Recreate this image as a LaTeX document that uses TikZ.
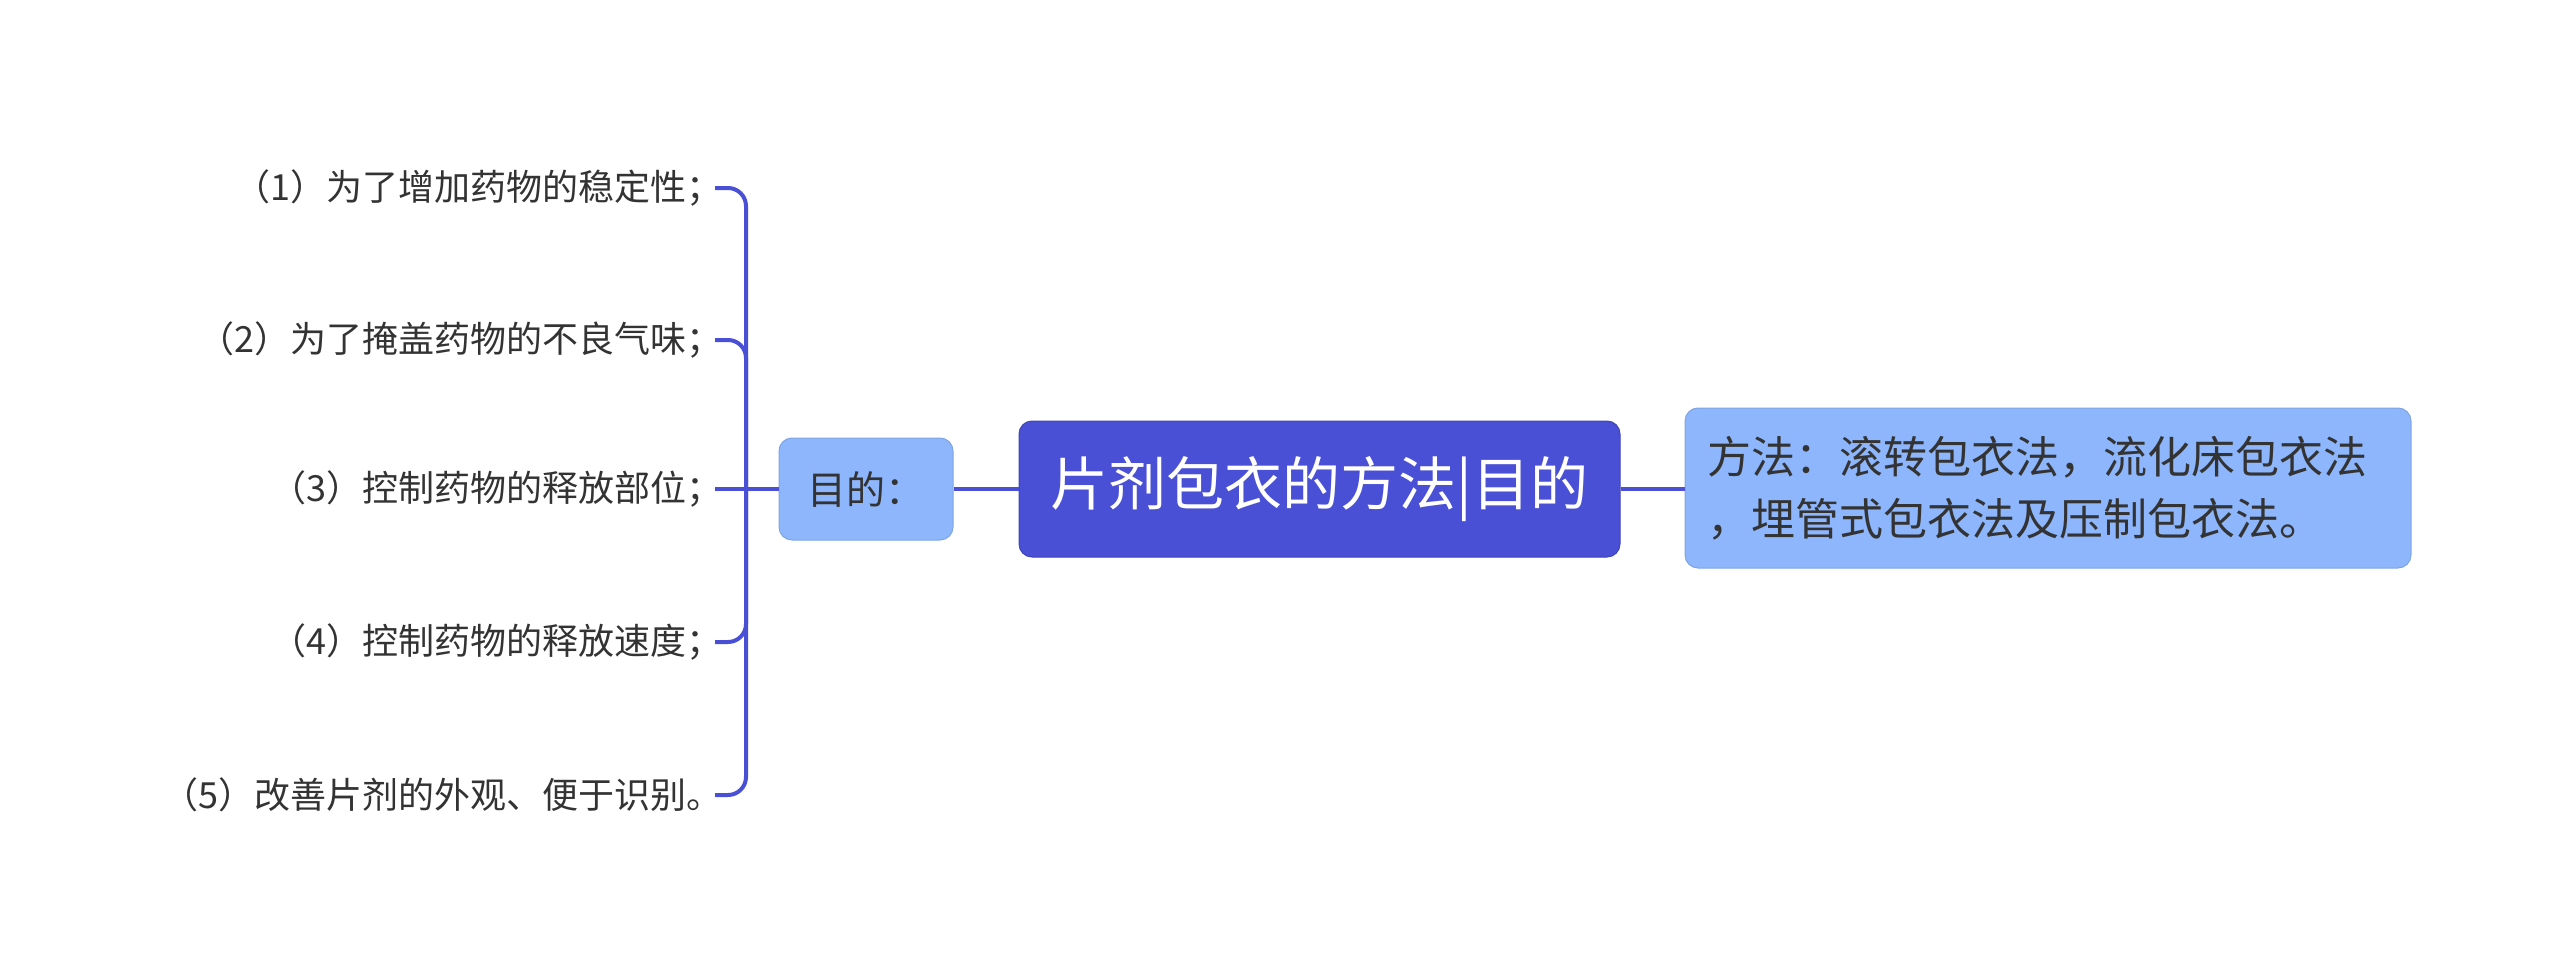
\documentclass[tikz,border=0pt]{standalone}
\usepackage{fontspec}
\setmainfont{Noto Sans CJK SC}
\usetikzlibrary{positioning, calc}
\definecolor{rootcolor}{HTML}{4A50D6}
\definecolor{subcolor}{HTML}{8DB6FC}
\definecolor{textcolor}{HTML}{333333}

\begin{document}
\begin{tikzpicture}[x=1pt, y=-1pt,
    link/.style={draw=rootcolor, line width=4pt},
    root/.style={fill=rootcolor, draw=rootcolor!85!black, line width=1pt, rounded corners=13pt,
        text=white, minimum width=601pt, minimum height=136pt, inner sep=0pt,
        font=\fontsize{58}{68}\selectfont},
    topic/.style={fill=subcolor, draw=subcolor!90!black, line width=1pt, rounded corners=13pt,
        text=textcolor, inner sep=0pt},
    leaf/.style={anchor=east, text=textcolor, inner sep=0pt, font=\fontsize{36}{42}\selectfont}]

    % Canvas
    \useasboundingbox (0,0) rectangle (2560,979);

    % Central topic
    \node[root] (main) at (1319.5,489) {片剂包衣的方法|目的};

    % Purpose branch
    \node[topic, minimum width=174pt, minimum height=102pt,
        font=\fontsize{39}{45}\selectfont] (purpose) at (866,489) {目的：};

    % Method branch
    \node[topic, minimum height=160pt, inner xsep=22pt, text width=682pt, align=left,
        font=\fontsize{44}{62}\selectfont] (method) at (2048,488)
        {方法：滚转包衣法，流化床包衣法\\，埋管式包衣法及压制包衣法。};

    % Leaves of the purpose branch
    \node[leaf] (p1) at (723,188) {（1）为了增加药物的稳定性；};
    \node[leaf] (p2) at (723,340) {（2）为了掩盖药物的不良气味；};
    \node[leaf] (p3) at (723,489) {（3）控制药物的释放部位；};
    \node[leaf] (p4) at (723,642) {（4）控制药物的释放速度；};
    \node[leaf] (p5) at (723,795) {（5）改善片剂的外观、便于识别。};

    % Connectors
    \coordinate (hub) at (746,489);
    \draw[link] (purpose.east) -- (main.west);
    \draw[link] (main.east) -- (method.west |- main.east);
    \foreach \p in {p1,p2,p4,p5}
        \draw[link, rounded corners=18pt] ($(\p.east)+(-8,0)$) -| (hub);
    \draw[link] ($(p3.east)+(-8,0)$) -- (purpose.west);

\end{tikzpicture}
\end{document}
